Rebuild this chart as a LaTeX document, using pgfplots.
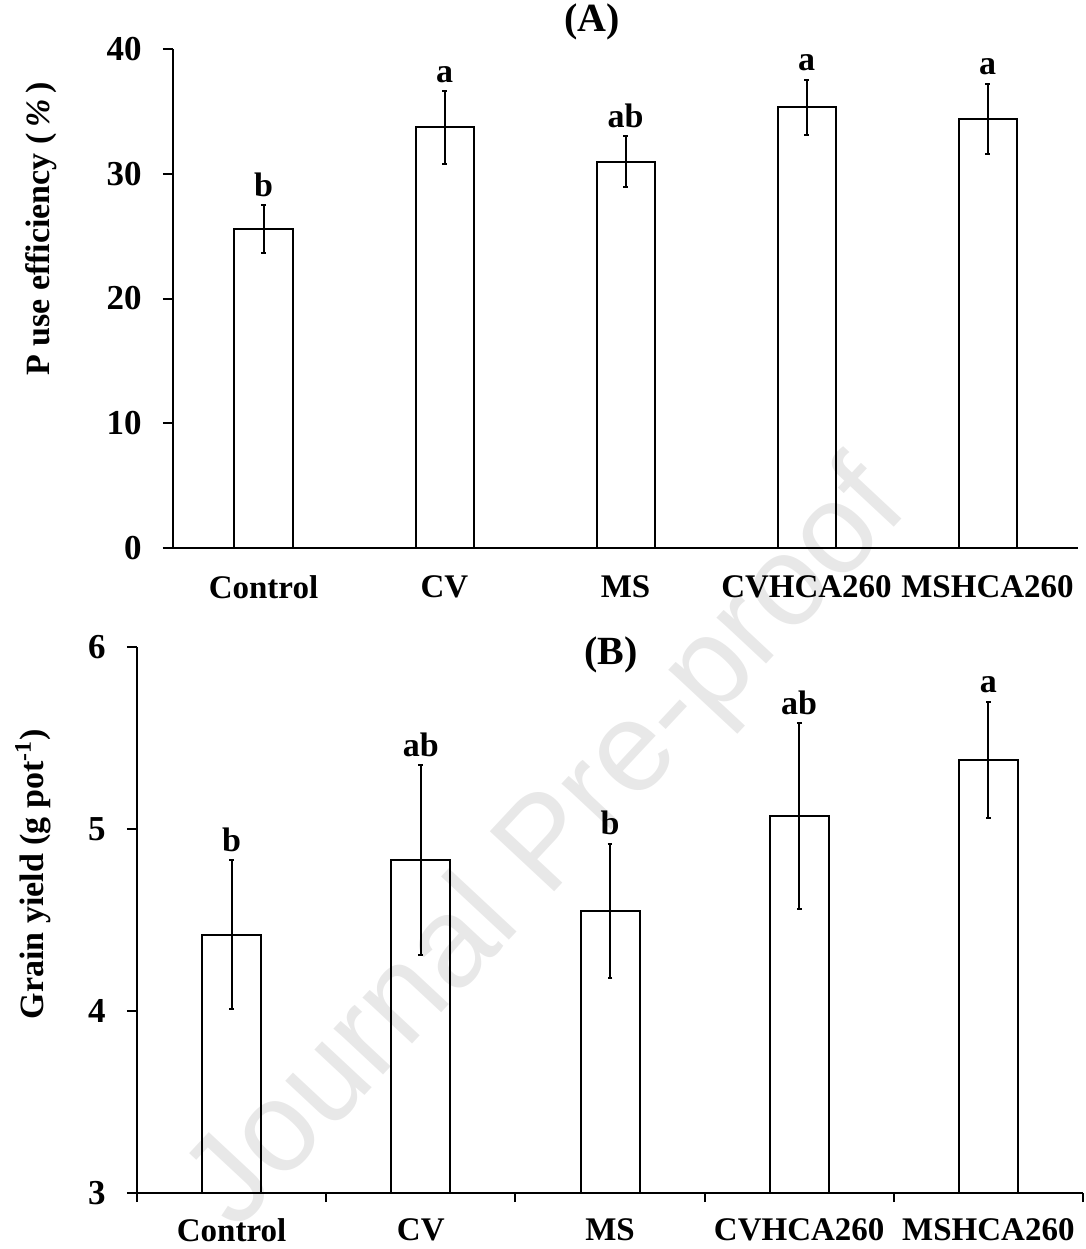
\documentclass[border=0pt]{standalone}
\usepackage{fontspec}
\setmainfont{Liberation Serif}
\setsansfont{Liberation Sans}
\usepackage{pgfplots}
\usepackage{pgfplotstable}
\pgfplotsset{compat=1.18}

\pgfplotstableread{
x y err top lab
0 25.55 1.92 27.47 b
1 33.72 2.93 36.65 a
2 30.97 2.07 33.04 ab
3 35.32 2.22 37.54 a
4 34.42 2.80 37.22 a
}\dataA

\pgfplotstableread{
x y err top lab
0 4.42 0.41 4.83 b
1 4.83 0.52 5.35 ab
2 4.55 0.37 4.92 b
3 5.07 0.51 5.58 ab
4 5.38 0.32 5.70 a
}\dataB

\pgfplotsset{
  myaxis/.style={
    scale only axis,
    clip=false,
    axis lines=left,
    axis line style={-, line width=1pt, black},
    tick align=outside,
    major tick length=5pt,
    minor tick length=4.5pt,
    tick style={black, line width=1pt},
    major x tick style={draw=none},
    xmin=-0.5, xmax=4.5,
    xtick={0,1,2,3,4},
    xticklabels={Control, CV, MS, CVHCA260, MSHCA260},
    /pgf/number format/assume math mode=true,
    tick label style={font=\fontsize{16.5}{19}\selectfont\bfseries},
    yticklabel style={anchor=east, inner sep=0pt, xshift=-10.5pt, font=\fontsize{17.5}{19}\selectfont\bfseries},
    label style={font=\fontsize{17}{20}\selectfont\bfseries},
    title style={font=\fontsize{20}{22}\selectfont\bfseries, anchor=center, yshift=-6pt},
  },
  barplot/.style={
    ybar, bar shift=0pt, draw=black, fill=none, line width=1pt,
    error bars/y dir=both, error bars/y explicit,
    error bars/error bar style={line width=1pt, black},
    error bars/error mark options={rotate=90, mark size=1.2pt, line width=1pt, black},
  },
  letterplot/.style={
    draw=none, mark=none, nodes near coords, point meta=explicit symbolic,
    every node near coord/.append style={inner sep=0pt, yshift=4pt, font=\fontsize{17}{19}\selectfont\bfseries, text=black},
  },
}

\begin{document}
\begin{tikzpicture}
\useasboundingbox (0,0) rectangle (543pt,-624.5pt);
\node[rotate=47, text=black!9, font=\sffamily\fontsize{64}{64}\selectfont] at (275pt,-424pt) {Journal Pre-proof};

% Panel A
\begin{axis}[myaxis,
  at={(86.5pt,-274pt)}, anchor=south west,
  width=452.5pt, height=249.5pt,
  ymin=0, ymax=40, ytick={0,10,20,30,40},
  x axis line style={shorten <=-5pt},
  xticklabel style={anchor=north, inner sep=0pt, yshift=-8.5pt},
  ylabel={P use efficiency (\,\textit{\%}\,)},
  ylabel style={at={(axis description cs:-0.146,0.639)}, anchor=center},
  title={(A)},
  title style={at={(axis description cs:0.463,1.054)}},
]
\addplot[bar width=29pt, barplot] table[x=x, y=y, y error=err]{\dataA};
\addplot[letterplot] table[x=x, y=top, meta=lab]{\dataA};
\end{axis}

% Panel B
\begin{axis}[myaxis,
  at={(68.5pt,-596.5pt)}, anchor=south west,
  width=473pt, height=273pt,
  ymin=3, ymax=6, ytick={3,4,5,6},
  minor xtick={-0.5,0.5,1.5,2.5,3.5,4.5},
  minor x tick style={black, line width=1pt},
  xticklabel style={anchor=north, inner sep=0pt, yshift=-7.5pt},
  ylabel={Grain yield (g pot\textsuperscript{-1})},
  ylabel style={at={(axis description cs:-0.110,0.584)}, anchor=center},
  title={(B)},
  title style={at={(axis description cs:0.501,0.985)}},
]
\addplot[bar width=29.5pt, barplot] table[x=x, y=y, y error=err]{\dataB};
\addplot[letterplot] table[x=x, y=top, meta=lab]{\dataB};
\end{axis}
\end{tikzpicture}
\end{document}
